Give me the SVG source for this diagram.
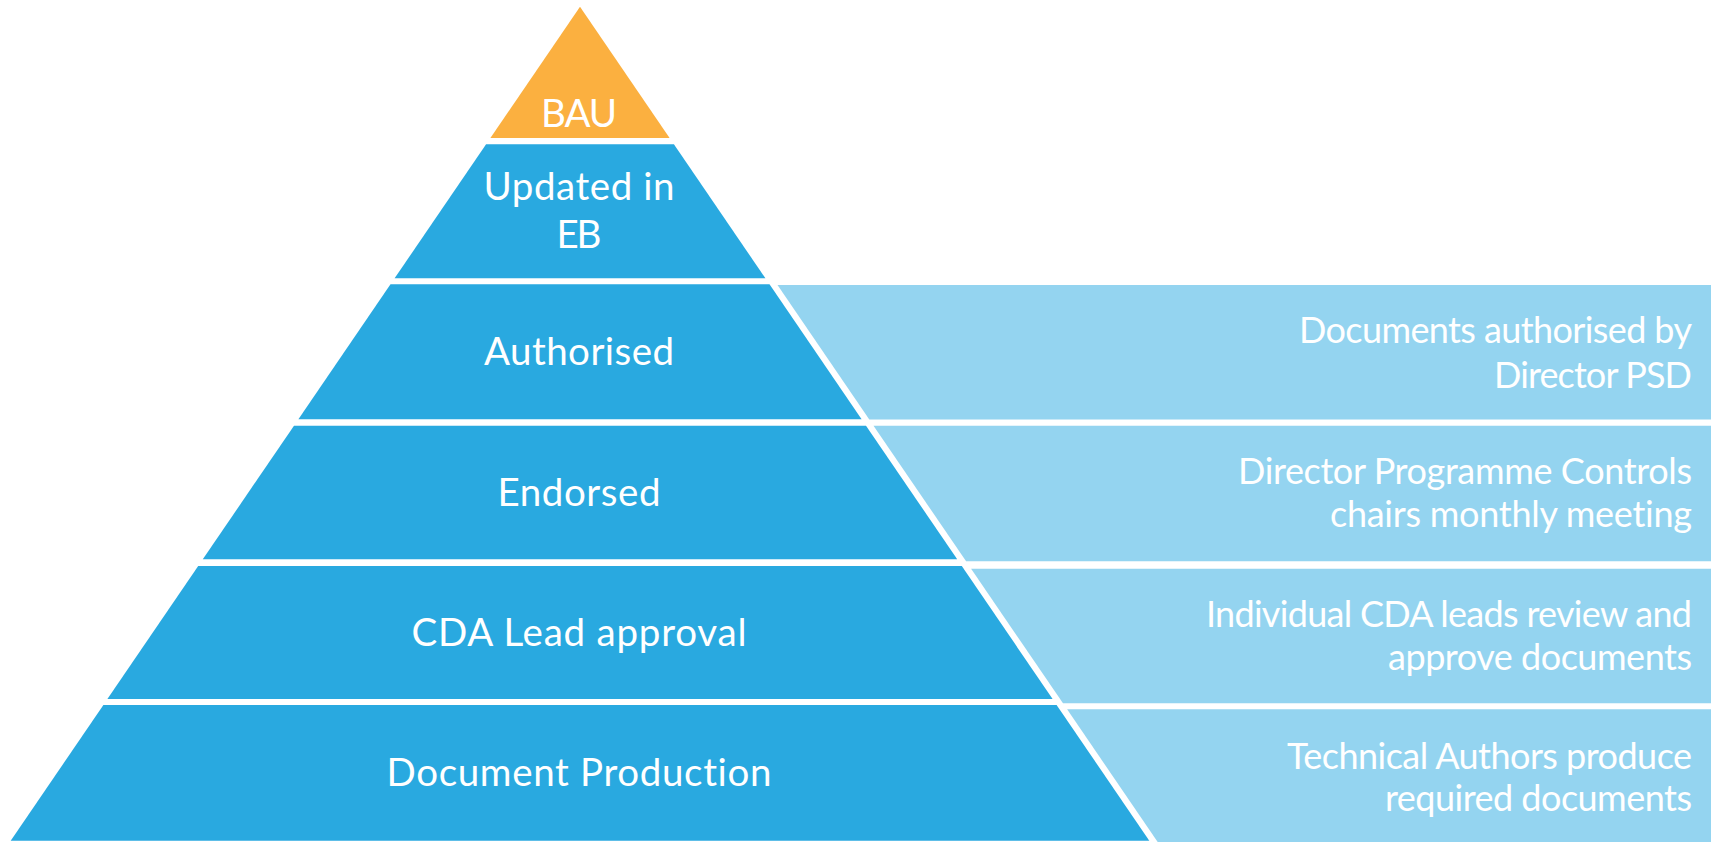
<svg xmlns="http://www.w3.org/2000/svg" width="1713" height="842" viewBox="0 0 1713 842">
<style>
.dark{fill:#29A9E0}
.light{fill:#94D4F0}
.top{fill:#FBB040}
.lbl{font-family:Lato,"Open Sans","Liberation Sans",sans-serif;font-size:38.5px;fill:#FFFFFF;text-anchor:middle;font-variant-ligatures:none}
.desc{font-family:Lato,"Open Sans","Liberation Sans",sans-serif;font-size:36px;fill:#FFFFFF;text-anchor:end;font-variant-ligatures:none}
</style>
<rect width="1713" height="842" fill="#FFFFFF"/>
<g id="tier-bau">
<polygon class="top" points="580,6.7 669.6,138 490.4,138"/>
<text class="lbl" x="579" y="126.7" textLength="76">BAU</text>
</g>
<g id="tier-updated">
<polygon class="dark" points="486.1,144.3 673.9,144.3 765.4,278.3 394.6,278.3"/>
<text class="lbl" x="579" y="200" textLength="191">Updated in</text>
<text class="lbl" x="579" y="248.3" textLength="45">EB</text>
</g>
<g id="tier-authorised">
<polygon class="light" points="777.5,285 1711,285 1711,419.5 869.3,419.5"/>
<polygon class="dark" points="390.5,284.3 769.5,284.3 861.6,419.3 298.4,419.3"/>
<text class="lbl" x="579" y="365" textLength="190">Authorised</text>
<text class="desc" x="1692" y="342.7" textLength="393">Documents authorised by</text>
<text class="desc" x="1692" y="387.7" textLength="198">Director PSD</text>
</g>
<g id="tier-endorsed">
<polygon class="light" points="873.5,425.7 1711,425.7 1711,561.3 966.1,561.3"/>
<polygon class="dark" points="294,425.7 866,425.7 957.2,559.3 202.8,559.3"/>
<text class="lbl" x="579" y="505.7" textLength="163">Endorsed</text>
<text class="desc" x="1692" y="484" textLength="454">Director Programme Controls</text>
<text class="desc" x="1692" y="527.3" textLength="362">chairs monthly meeting</text>
</g>
<g id="tier-cda">
<polygon class="light" points="971.1,568.7 1711,568.7 1711,703.3 1063,703.3"/>
<polygon class="dark" points="198.2,566 961.8,566 1052.6,699 107.4,699"/>
<text class="lbl" x="579" y="646" textLength="335">CDA Lead approval</text>
<text class="desc" x="1692" y="626.7" textLength="486">Individual CDA leads review and</text>
<text class="desc" x="1692" y="670" textLength="304">approve documents</text>
</g>
<g id="tier-production">
<polygon class="light" points="1067.1,709.3 1711,709.3 1711,842 1157.7,842"/>
<polygon class="dark" points="103.4,705 1056.6,705 1149.3,840.7 10.7,840.7"/>
<text class="lbl" x="579" y="786" textLength="385">Document Production</text>
<text class="desc" x="1692" y="769" textLength="405">Technical Authors produce</text>
<text class="desc" x="1692" y="811" textLength="307">required documents</text>
</g>
</svg>
